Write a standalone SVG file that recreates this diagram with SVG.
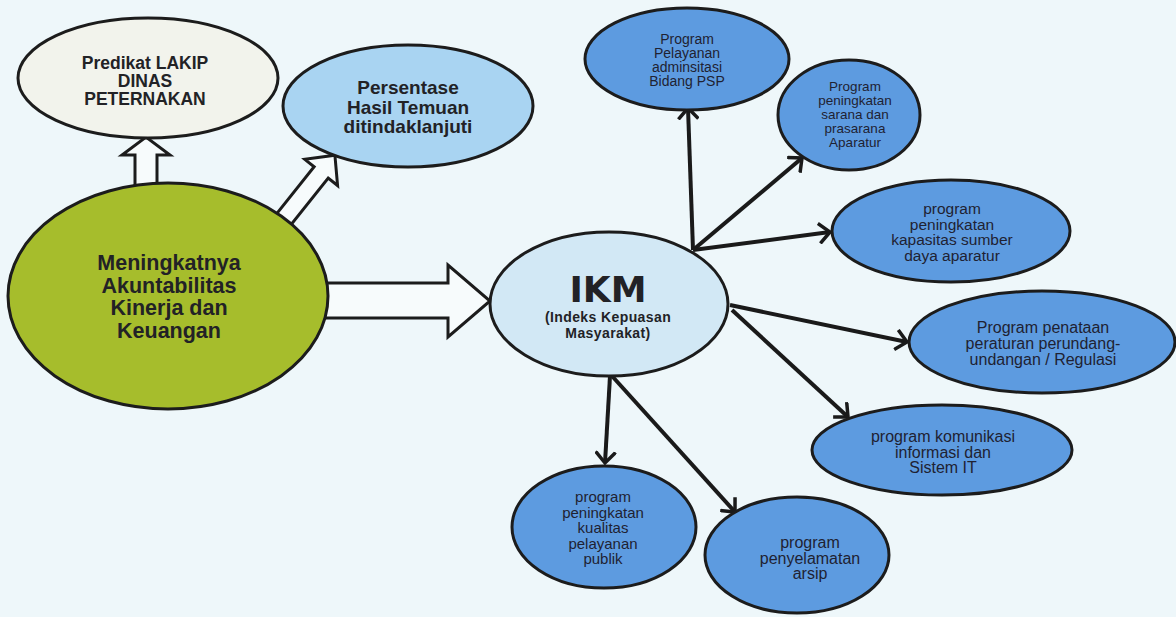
<svg xmlns="http://www.w3.org/2000/svg" width="1176" height="617" viewBox="0 0 1176 617">
<defs>
<style>
.bg{fill:#eef7fa}
.node{stroke:#1c1c1c;stroke-width:3}
.prog{fill:#5d9be0}
.bt{font-family:"Liberation Sans",Arial,sans-serif;font-weight:bold;fill:#222226;text-anchor:middle}
.pt{font-family:"Liberation Sans",Arial,sans-serif;fill:#1f2232;text-anchor:middle}
.ln{stroke:#1a1a1a;stroke-width:4;fill:none;marker-end:url(#chev)}
.blk{fill:#f7fbfc;stroke:#1c1c1c;stroke-width:3;stroke-linejoin:miter}
</style>
<marker id="chev" viewBox="0 0 14 22" refX="12" refY="11" markerWidth="14" markerHeight="22" markerUnits="userSpaceOnUse" orient="auto">
<path d="M1,1 L12,11 L1,21" fill="none" stroke="#1a1a1a" stroke-width="3.5"/>
</marker>
</defs>
<rect class="bg" x="0" y="0" width="1176" height="617"/>
<g id="connectors">
<polygon class="blk" points="0,-11 37,-11 37,-24 55,0 37,24 37,11 0,11" transform="translate(146,192) rotate(-90)"/>
<polygon class="blk" points="0,-9 66,-9 66,-21 88,0 66,21 66,9 0,9" transform="translate(280,224) rotate(-51.4)"/>
<polygon class="blk" points="320,283 448,283 448,265 490,301 448,337 448,318 320,318"/>
<line class="ln" x1="693" y1="250" x2="688" y2="108"/>
<line class="ln" x1="693" y1="250" x2="802" y2="158"/>
<line class="ln" x1="693" y1="250" x2="830" y2="232"/>
<line class="ln" x1="730" y1="305" x2="907" y2="342"/>
<line class="ln" x1="732" y1="310" x2="848" y2="417"/>
<line class="ln" x1="610" y1="376" x2="605" y2="463"/>
<line class="ln" x1="612" y1="376" x2="735" y2="512"/>
</g>
<g id="predikat">
<ellipse class="node" cx="148" cy="78" rx="130" ry="60" fill="#f2f3ec"/>
<text class="bt" font-size="17.5"><tspan x="145" y="69">Predikat LAKIP</tspan><tspan x="145" y="87">DINAS</tspan><tspan x="145" y="105">PETERNAKAN</tspan></text>
</g>
<g id="persentase">
<ellipse class="node" cx="408" cy="106" rx="125" ry="61" fill="#a9d4f2"/>
<text class="bt" font-size="19"><tspan x="408" y="94">Persentase</tspan><tspan x="408" y="113.5">Hasil Temuan</tspan><tspan x="408" y="133">ditindaklanjuti</tspan></text>
</g>
<g id="akuntabilitas">
<ellipse class="node" cx="168" cy="296" rx="160" ry="113" fill="#a6bd2c"/>
<text class="bt" font-size="21.5"><tspan x="169" y="270">Meningkatnya</tspan><tspan x="169" y="292.5">Akuntabilitas</tspan><tspan x="169" y="315">Kinerja dan</tspan><tspan x="169" y="337.5">Keuangan</tspan></text>
</g>
<g id="ikm">
<ellipse class="node" cx="609" cy="304" rx="119" ry="72" fill="#d2e8f5"/>
<text class="bt" font-size="36" style="font-family:'DejaVu Sans',sans-serif" x="608" y="302">IKM</text>
<text class="bt" font-size="14" letter-spacing="0.4"><tspan x="608" y="322">(Indeks Kepuasan</tspan><tspan x="608" y="338">Masyarakat)</tspan></text>
</g>
<g id="pelayanan">
<ellipse class="node prog" cx="687" cy="59" rx="102" ry="51"/>
<text class="pt" font-size="14"><tspan x="687" y="44">Program</tspan><tspan x="687" y="58">Pelayanan</tspan><tspan x="687" y="72">adminsitasi</tspan><tspan x="687" y="86">Bidang PSP</tspan></text>
</g>
<g id="sarana">
<ellipse class="node prog" cx="849" cy="115" rx="71" ry="55"/>
<text class="pt" font-size="13.5"><tspan x="855" y="91">Program</tspan><tspan x="855" y="105">peningkatan</tspan><tspan x="855" y="119">sarana dan</tspan><tspan x="855" y="133">prasarana</tspan><tspan x="855" y="147">Aparatur</tspan></text>
</g>
<g id="kapasitas">
<ellipse class="node prog" cx="951" cy="231" rx="119" ry="51"/>
<text class="pt" font-size="15.5"><tspan x="952" y="214">program</tspan><tspan x="952" y="229.5">peningkatan</tspan><tspan x="952" y="245">kapasitas sumber</tspan><tspan x="952" y="260.5">daya aparatur</tspan></text>
</g>
<g id="penataan">
<ellipse class="node prog" cx="1042" cy="342" rx="133" ry="51"/>
<text class="pt" font-size="16"><tspan x="1043" y="333">Program penataan</tspan><tspan x="1043" y="349">peraturan perundang-</tspan><tspan x="1043" y="365">undangan / Regulasi</tspan></text>
</g>
<g id="komunikasi">
<ellipse class="node prog" cx="942" cy="450" rx="130" ry="45"/>
<text class="pt" font-size="16"><tspan x="943" y="442">program komunikasi</tspan><tspan x="943" y="457.5">informasi dan</tspan><tspan x="943" y="473">Sistem IT</tspan></text>
</g>
<g id="kualitas">
<ellipse class="node prog" cx="604" cy="527" rx="92" ry="61"/>
<text class="pt" font-size="15"><tspan x="603" y="502">program</tspan><tspan x="603" y="517.5">peningkatan</tspan><tspan x="603" y="533">kualitas</tspan><tspan x="603" y="548.5">pelayanan</tspan><tspan x="603" y="564">publik</tspan></text>
</g>
<g id="arsip">
<ellipse class="node prog" cx="797" cy="555" rx="92" ry="58"/>
<text class="pt" font-size="16"><tspan x="810" y="548">program</tspan><tspan x="810" y="563.5">penyelamatan</tspan><tspan x="810" y="579">arsip</tspan></text>
</g>
</svg>
